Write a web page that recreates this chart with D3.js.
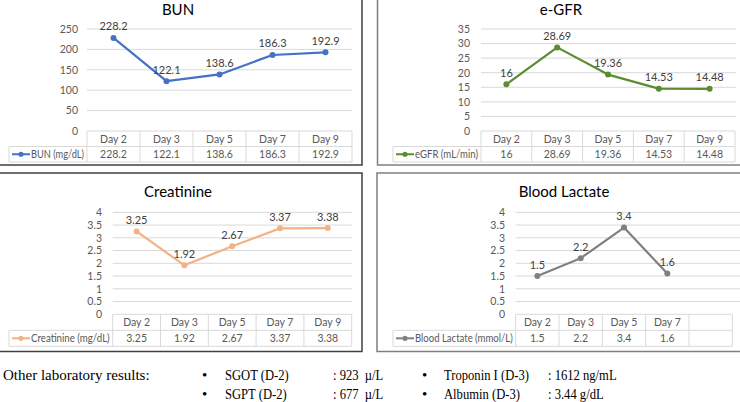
<!DOCTYPE html>
<html><head><meta charset="utf-8">
<script src="https://cdn.jsdelivr.net/npm/d3@7"></script>
<style>
html,body{margin:0;padding:0;background:#fff;}
svg{display:block;}
</style></head>
<body>
<svg id="chart" width="740" height="402"></svg>
<script>
// ---- data ----
const bunDays = ["Day 2","Day 3","Day 5","Day 7","Day 9"];
const bunValues = [228.2,122.1,138.6,186.3,192.9];
const bunLabels = ["228.2","122.1","138.6","186.3","192.9"];
const bunTicks = [0,50,100,150,200,250];

const egfrDays = ["Day 2","Day 3","Day 5","Day 7","Day 9"];
const egfrValues = [16,28.69,19.36,14.53,14.48];
const egfrLabels = ["16","28.69","19.36","14.53","14.48"];
const egfrTicks = [0,5,10,15,20,25,30,35];

const creaDays = ["Day 2","Day 3","Day 5","Day 7","Day 9"];
const creaValues = [3.25,1.92,2.67,3.37,3.38];
const creaLabels = ["3.25","1.92","2.67","3.37","3.38"];
const creaTicks = [0,0.5,1,1.5,2,2.5,3,3.5,4];

const lacDays = ["Day 2","Day 3","Day 5","Day 7",""];
const lacValues = [1.5,2.2,3.4,1.6];
const lacLabels = ["1.5","2.2","3.4","1.6"];
const lacTicks = [0,0.5,1,1.5,2,2.5,3,3.5,4];

const otherRows = [
  ["SGOT (D-2)", ": 923  \u00b5/L", "Troponin I (D-3)", ": 1612 ng/mL"],
  ["SGPT (D-2)", ": 677  \u00b5/L", "Albumin (D-3)", ": 3.44 g/dL"]
];

// ---- drawing ----
const svg = d3.select("#chart");
const FONT = "Lato, 'Open Sans', sans-serif";
const TXT = "#595959";
const GRID = "#d9d9d9";

function fit(sel, maxW){
  sel.each(function(){
    const w = this.getComputedTextLength();
    if (w > maxW) d3.select(this).attr("textLength", maxW).attr("lengthAdjust","spacingAndGlyphs");
  });
}

function panel(o){
  const g = svg.append("g");
  g.append("rect").attr("x",o.box[0]).attr("y",o.box[1])
    .attr("width",o.box[2]-o.box[0]).attr("height",o.box[3]-o.box[1])
    .attr("fill","#fff").attr("stroke",o.border).attr("stroke-width",1.5);
  g.append("text").attr("x",o.titleX).attr("y",o.titleY).attr("text-anchor","middle")
    .attr("font-family",FONT).attr("font-size",15).attr("fill","#000").text(o.title);

  const x = d3.scaleBand().domain(o.days).range([o.x0,o.x1]);
  const y = d3.scaleLinear().domain([0,o.yMax]).range([o.yBottom,o.yTop]);

  g.append("g").selectAll("line").data(o.ticks.filter(t=>t>0)).join("line")
    .attr("x1",o.x0).attr("x2",o.gridEnd).attr("y1",d=>y(d)).attr("y2",d=>y(d))
    .attr("stroke",GRID).attr("stroke-width",1);

  const ya = d3.axisLeft(y).tickValues(o.ticks).tickSize(0).tickPadding(0)
    .tickFormat(d=>String(d));
  const yg = g.append("g").attr("transform",`translate(${o.tickX},0)`).call(ya);
  yg.select(".domain").remove();
  yg.selectAll("text").attr("font-family",FONT).attr("font-size",10.5).attr("fill",TXT);

  const rowH = o.rowH;
  const t0 = o.yBottom, t1 = t0+rowH, t2 = t1+rowH;
  const tg = g.append("g").attr("stroke",GRID).attr("stroke-width",1);
  tg.append("line").attr("x1",o.x0).attr("x2",o.x1).attr("y1",t0).attr("y2",t0);
  tg.append("line").attr("x1",o.legX).attr("x2",o.x1).attr("y1",t1).attr("y2",t1);
  tg.append("line").attr("x1",o.legX).attr("x2",o.x1).attr("y1",t2).attr("y2",t2);
  tg.append("line").attr("x1",o.legX).attr("x2",o.legX).attr("y1",t1).attr("y2",t2);
  const edges = o.days.map(d=>x(d)).concat([o.x1]);
  tg.selectAll("line.v").data(edges).join("line").attr("class","v")
    .attr("x1",d=>d).attr("x2",d=>d).attr("y1",t0).attr("y2",t2);

  g.append("g").selectAll("text").data(o.days).join("text")
    .attr("x",d=>x(d)+x.bandwidth()/2).attr("y",t0+rowH/2+4).attr("text-anchor","middle")
    .attr("font-family",FONT).attr("font-size",10.5).attr("fill",TXT).text(d=>d);
  g.append("g").selectAll("text").data(o.labels).join("text")
    .attr("x",(d,i)=>x(o.days[i])+x.bandwidth()/2).attr("y",t1+rowH/2+4).attr("text-anchor","middle")
    .attr("font-family",FONT).attr("font-size",10.5).attr("fill",TXT).text(d=>d);

  const ly = t1+rowH/2;
  g.append("line").attr("x1",o.legX+3).attr("x2",o.legX+21).attr("y1",ly).attr("y2",ly)
    .attr("stroke",o.color).attr("stroke-width",2);
  g.append("circle").attr("cx",o.legX+12).attr("cy",ly).attr("r",2.6).attr("fill",o.color);
  const lt = g.append("text").attr("x",o.legX+22).attr("y",ly+3.8).attr("font-family",FONT)
    .attr("font-size",10.5).attr("fill",TXT).text(o.legend);
  fit(lt, o.x0 - o.legX - 25);

  const pts = o.values.map((v,i)=>[x(o.days[i])+x.bandwidth()/2, y(v)]);
  g.append("path").attr("d",d3.line()(pts)).attr("fill","none")
    .attr("stroke",o.color).attr("stroke-width",2.2).attr("stroke-linejoin","round");
  g.append("g").selectAll("circle").data(pts).join("circle")
    .attr("cx",d=>d[0]).attr("cy",d=>d[1]).attr("r",3).attr("fill",o.color);
  g.append("g").selectAll("text").data(pts).join("text")
    .attr("x",d=>d[0]).attr("y",d=>d[1]-7.5).attr("text-anchor","middle")
    .attr("font-family",FONT).attr("font-size",11).attr("fill","#404040")
    .text((d,i)=>o.labels[i]);
}

panel({box:[-2,-2,362,165], border:"#404040", title:"BUN", titleX:178, titleY:15,
  days:bunDays, values:bunValues, labels:bunLabels, ticks:bunTicks, yMax:250,
  x0:87, x1:352, gridEnd:352, yBottom:131, yTop:29, tickX:78, legX:9, rowH:15.5,
  color:"#4472C4", legend:"BUN (mg/dL)"});
panel({box:[377.5,-2,742,165], border:"#7f7f7f", title:"e-GFR", titleX:561, titleY:15,
  days:egfrDays, values:egfrValues, labels:egfrLabels, ticks:egfrTicks, yMax:35,
  x0:481, x1:735, gridEnd:736, yBottom:131, yTop:29, tickX:470, legX:393, rowH:15.5,
  color:"#5B8C32", legend:"eGFR (mL/min)"});
panel({box:[-2,173,362,351.5], border:"#404040", title:"Creatinine", titleX:178, titleY:197,
  days:creaDays, values:creaValues, labels:creaLabels, ticks:creaTicks, yMax:4,
  x0:112.7, x1:351.7, gridEnd:352, yBottom:314.3, yTop:212.3, tickX:102, legX:9, rowH:16,
  color:"#F4B183", legend:"Creatinine (mg/dL)"});
panel({box:[377,173,742,351.5], border:"#7f7f7f", title:"Blood Lactate", titleX:564, titleY:197,
  days:lacDays, values:lacValues, labels:lacLabels, ticks:lacTicks, yMax:4,
  x0:515.7, x1:732.3, gridEnd:740, yBottom:314.3, yTop:212.3, tickX:505, legX:393, rowH:16,
  color:"#808080", legend:"Blood Lactate (mmol/L)"});

// other lab results
const SERIF = "'Liberation Serif', 'Times New Roman', serif";
const bt = svg.append("g").attr("font-family",SERIF).attr("font-size",15).attr("fill","#000");
bt.append("text").attr("x",3).attr("y",380).text("Other laboratory results:");
const rowY = [380,399];
const squeeze = 0.84;
otherRows.forEach((r,i)=>{
  const yy = rowY[i];
  bt.append("text").attr("x",202).attr("y",yy).text("\u2022");
  bt.append("text").attr("x",422).attr("y",yy).text("\u2022");
  [[225,r[0]],[333,r[1]],[444,r[2]],[548,r[3]]].forEach(([xx,s])=>{
    const t = bt.append("text").attr("x",xx).attr("y",yy).style("white-space","pre").text(s);
    const w = t.node().getComputedTextLength();
    t.attr("textLength", w*squeeze).attr("lengthAdjust","spacingAndGlyphs");
  });
});
</script>
</body></html>
